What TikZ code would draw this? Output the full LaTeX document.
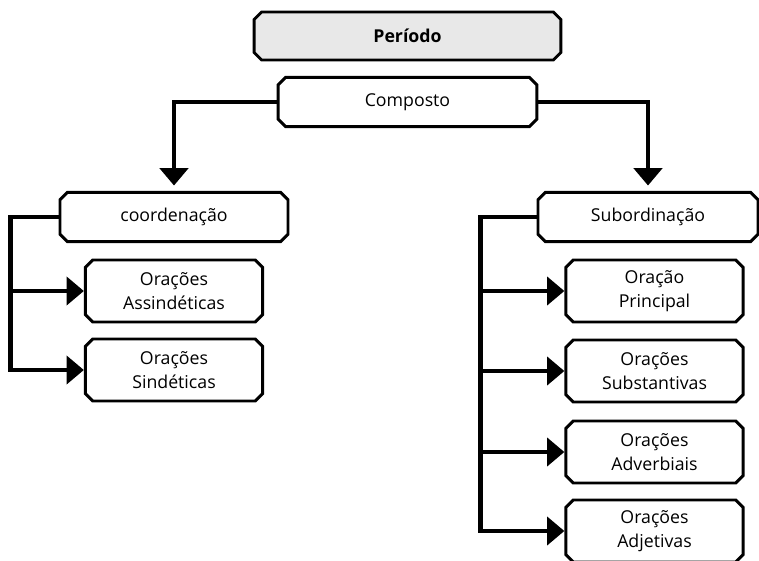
\documentclass[tikz,border=0pt]{standalone}
\usepackage{fontspec}
\setmainfont{Open Sans}
\usetikzlibrary{shapes.misc,arrows.meta}

\begin{document}
\begin{tikzpicture}[x=0.75pt,y=-0.75pt,
  caixa/.style={chamfered rectangle,chamfered rectangle xsep=2.8pt,chamfered rectangle ysep=2.8pt,
    draw,line width=2.2pt,fill=white,align=center,font=\fontsize{13.3}{18}\selectfont,inner sep=2pt},
  item/.style={caixa,minimum width=133pt,minimum height=46.5pt},
  fio/.style={line width=3.2pt},
  seta/.style={fio,-{Triangle[length=13pt,width=21pt]}}]
\useasboundingbox (0,0) rectangle (759,560);
\node[caixa,fill=gray!18,minimum width=230pt,minimum height=36pt,font=\fontsize{13.3}{18}\selectfont\bfseries] (per) at (407.5,36) {Período};
\node[caixa,minimum width=194pt,minimum height=37pt] (comp) at (407.5,102) {Composto};
\node[caixa,minimum width=171pt,minimum height=37pt] (coord) at (174,217) {coordenação};
\node[caixa,minimum width=165pt,minimum height=37pt] (sub) at (648,217) {Subordinação};
\node[item] (assind) at (174,291) {Orações\\Assindéticas};
\node[item] (sind) at (174,370) {Orações\\Sindéticas};
\node[item] (princ) at (654.5,291) {Oração\\Principal};
\node[item] (subst) at (654.5,371) {Orações\\Substantivas};
\node[item] (adverb) at (654.5,452) {Orações\\Adverbiais};
\node[item] (adjet) at (654.5,531) {Orações\\Adjetivas};
\draw[seta,shorten >=4pt] (comp.west) -| (coord.north);
\draw[seta,shorten >=4pt] (comp.east) -| (sub.north);
\draw[seta] (coord.west) -- ++(-48,0) coordinate (esq) |- (sind.west);
\draw[seta] (esq |- assind.west) -- (assind.west);
\draw[seta] (sub.west) -- ++(-56,0) coordinate (dir) |- (adjet.west);
\foreach \n in {princ,subst,adverb}
  \draw[seta] (dir |- \n.west) -- (\n.west);
\end{tikzpicture}
\end{document}
